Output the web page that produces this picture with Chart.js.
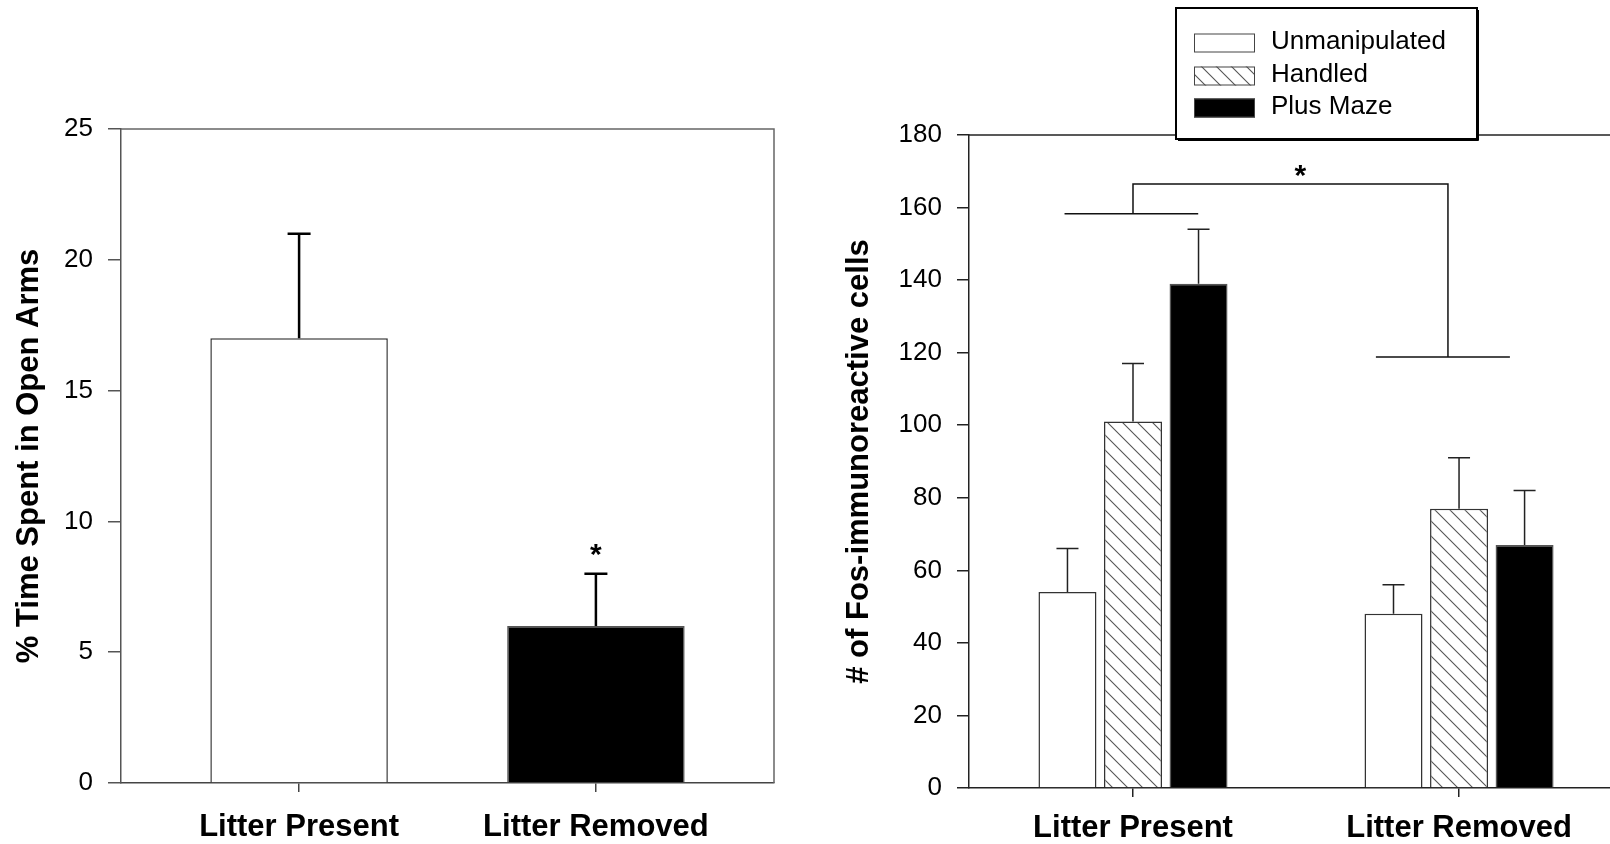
<!DOCTYPE html>
<html>
<head>
<meta charset="utf-8">
<script src="https://cdn.jsdelivr.net/npm/chart.js@4.4.1/dist/chart.umd.min.js"></script>
<style>
  body { margin: 0; background: #fff; }
  #timeChart { position: absolute; left: 0; top: 0; }
  #fosChart { position: absolute; left: 820px; top: 0; }
</style>
</head>
<body>
<canvas id="timeChart" width="820" height="844"></canvas>
<canvas id="fosChart" width="790" height="844"></canvas>
<script>
// ---- data ----
const groupLabels = ['Litter Present', 'Litter Removed'];
const groupPos = [1, 2];

// left panel: % time in open arms (mean, upper SEM)
const openArmTime = [17, 6];
const openArmErr = [4, 2];
const openArmTicks = [0, 5, 10, 15, 20, 25];
const openArmStar = [2, 8.7];          // x group, y value

// right panel: Fos-immunoreactive cells
const unmanipulated = [54, 48];
const unmanipulatedErr = [12, 8];
const handled = [101, 77];
const handledErr = [16, 14];
const plusMaze = [139, 67];
const plusMazeErr = [15, 15];
const fosTicks = [0, 20, 40, 60, 80, 100, 120, 140, 160, 180];

// significance bracket (x in group units, y in cells)
const sigLines = [[0.79, 1.2, 158.3], [1.745, 2.156, 118.8]];
const sigStems = [1.0, 1.966];
const sigTop = 166.5;
const sigStar = [1.513, 168.4];

const FONT = "'Liberation Sans', Arial, sans-serif";

function toPoints(values) {
  return values.map((v, i) => ({ x: groupPos[i], y: v }));
}

// diagonal hatch used for the "Handled" bars
function makeHatch(ctx) {
  const size = 15;
  const c = document.createElement('canvas');
  c.width = size;
  c.height = size;
  const g = c.getContext('2d');
  g.fillStyle = '#fff';
  g.fillRect(0, 0, size, size);
  g.strokeStyle = '#555';
  g.lineWidth = 1.1;
  g.beginPath();
  g.moveTo(0, 0); g.lineTo(size, size);
  g.moveTo(-3, size - 3); g.lineTo(3, size + 3);
  g.moveTo(size - 3, -3); g.lineTo(size + 3, 3);
  g.stroke();
  return ctx.createPattern(c, 'repeat');
}

// upper error bars
const errorBars = {
  id: 'errorBars',
  afterDatasetsDraw(chart, args, opts) {
    const ctx = chart.ctx;
    const yScale = chart.scales.y;
    ctx.save();
    ctx.strokeStyle = opts.color;
    ctx.lineWidth = opts.width;
    chart.data.datasets.forEach((ds, i) => {
      chart.getDatasetMeta(i).data.forEach((bar, j) => {
        const top = yScale.getPixelForValue(ds.data[j].y + ds.errors[j]);
        ctx.beginPath();
        ctx.moveTo(bar.x, bar.y);
        ctx.lineTo(bar.x, top);
        ctx.moveTo(bar.x - opts.cap / 2, top);
        ctx.lineTo(bar.x + opts.cap / 2, top);
        ctx.stroke();
      });
    });
    ctx.restore();
  }
};

// top (and right) frame line of the plot box
const frame = {
  id: 'frame',
  beforeDatasetsDraw(chart, args, opts) {
    const { ctx, chartArea } = chart;
    ctx.save();
    ctx.strokeStyle = opts.color;
    ctx.lineWidth = opts.width;
    ctx.beginPath();
    ctx.moveTo(chartArea.left, chartArea.top);
    ctx.lineTo(chartArea.right, chartArea.top);
    if (opts.right) ctx.lineTo(chartArea.right, chartArea.bottom);
    ctx.stroke();
    ctx.restore();
  }
};

// left panel star
const timeStar = {
  id: 'timeStar',
  afterDraw(chart) {
    const ctx = chart.ctx;
    ctx.save();
    ctx.font = 'bold 30px ' + FONT;
    ctx.fillStyle = '#000';
    ctx.textAlign = 'center';
    ctx.textBaseline = 'middle';
    ctx.fillText('*', chart.scales.x.getPixelForValue(openArmStar[0]), chart.scales.y.getPixelForValue(openArmStar[1]));
    ctx.restore();
  }
};

// right panel bracket + star
const bracket = {
  id: 'bracket',
  afterDraw(chart) {
    const ctx = chart.ctx;
    const xs = chart.scales.x, ys = chart.scales.y;
    ctx.save();
    ctx.strokeStyle = '#111';
    ctx.lineWidth = 1.5;
    ctx.beginPath();
    sigLines.forEach(l => {
      ctx.moveTo(xs.getPixelForValue(l[0]), ys.getPixelForValue(l[2]));
      ctx.lineTo(xs.getPixelForValue(l[1]), ys.getPixelForValue(l[2]));
    });
    ctx.moveTo(xs.getPixelForValue(sigStems[0]), ys.getPixelForValue(sigLines[0][2]));
    ctx.lineTo(xs.getPixelForValue(sigStems[0]), ys.getPixelForValue(sigTop));
    ctx.lineTo(xs.getPixelForValue(sigStems[1]), ys.getPixelForValue(sigTop));
    ctx.lineTo(xs.getPixelForValue(sigStems[1]), ys.getPixelForValue(sigLines[1][2]));
    ctx.stroke();
    ctx.font = 'bold 30px ' + FONT;
    ctx.fillStyle = '#000';
    ctx.textAlign = 'center';
    ctx.textBaseline = 'middle';
    ctx.fillText('*', xs.getPixelForValue(sigStar[0]), ys.getPixelForValue(sigStar[1]));
    ctx.restore();
  }
};

// boxed legend sitting over the top frame line
const boxLegend = {
  id: 'boxLegend',
  afterDraw(chart, args, opts) {
    const ctx = chart.ctx;
    const b = opts.box;
    ctx.save();
    ctx.fillStyle = '#fff';
    ctx.fillRect(b.x, b.y, b.w, b.h);
    ctx.strokeStyle = '#000';
    ctx.lineWidth = 2;
    ctx.strokeRect(b.x, b.y, b.w, b.h);
    ctx.lineWidth = 1;
    ctx.beginPath();
    ctx.moveTo(b.x + 2, b.y + b.h + 1.5);
    ctx.lineTo(b.x + b.w + 1.5, b.y + b.h + 1.5);
    ctx.lineTo(b.x + b.w + 1.5, b.y + 2);
    ctx.stroke();
    ctx.font = '26px ' + FONT;
    ctx.textBaseline = 'middle';
    chart.data.datasets.forEach((ds, i) => {
      const cy = opts.rows[i];
      ctx.fillStyle = ds.backgroundColor;
      ctx.fillRect(opts.swatchX, cy - 9.5, 61, 19);
      ctx.strokeStyle = '#444';
      ctx.lineWidth = 1;
      ctx.strokeRect(opts.swatchX + 0.5, cy - 9, 60, 18);
      ctx.fillStyle = '#000';
      ctx.fillText(ds.label, opts.textX, cy - 1);
    });
    ctx.restore();
  }
};

function axisFont(size, weight) {
  return { family: FONT, size: size, weight: weight };
}

// ---- left chart ----
const timeCtx = document.getElementById('timeChart').getContext('2d');
new Chart(timeCtx, {
  type: 'bar',
  data: {
    datasets: [{
      data: toPoints(openArmTime),
      errors: openArmErr,
      backgroundColor: ['#fff', '#000'],
      borderColor: ['#333', '#555'],
      borderWidth: 1.5,
      categoryPercentage: 1,
      barPercentage: 0.598
    }]
  },
  options: {
    responsive: false,
    animation: false,
    events: [],
    layout: { padding: { top: 129, right: 46, left: 0, bottom: 0 } },
    plugins: {
      legend: { display: false },
      tooltip: { enabled: false },
      errorBars: { color: '#000', width: 2.5, cap: 23 },
      frame: { color: '#666', width: 1.5, right: true }
    },
    scales: {
      x: {
        type: 'linear',
        offset: false,
        min: 0.4,
        max: 2.6,
        afterBuildTicks: s => { s.ticks = groupPos.map(v => ({ value: v })); },
        afterFit: s => { s.height = 61; },
        ticks: {
          callback: v => groupLabels[groupPos.indexOf(v)],
          font: axisFont(31, 'bold'),
          color: '#000',
          padding: 17,
          maxRotation: 0,
          autoSkip: false
        },
        grid: { offset: false, drawOnChartArea: false, tickLength: 9, color: '#444', lineWidth: 1.5 },
        border: { color: '#444', width: 1.5 }
      },
      y: {
        min: 0,
        max: 25,
        afterBuildTicks: s => { s.ticks = openArmTicks.map(v => ({ value: v })); },
        afterFit: s => { s.width = 121; },
        ticks: { font: axisFont(26, 'normal'), color: '#000', padding: 15 },
        grid: { drawOnChartArea: false, tickLength: 13, color: '#555', lineWidth: 1.5 },
        border: { color: '#555', width: 1.5 },
        title: {
          display: true,
          text: '% Time Spent in Open Arms',
          font: axisFont(31, 'bold'),
          color: '#000',
          padding: { top: 11, bottom: 0 }
        }
      }
    }
  },
  plugins: [frame, errorBars, timeStar]
});

// ---- right chart ----
const fosCtx = document.getElementById('fosChart').getContext('2d');
const hatch = makeHatch(fosCtx);
const barStyle = { borderWidth: 1.5, categoryPercentage: 0.603, barPercentage: 0.885 };

new Chart(fosCtx, {
  type: 'bar',
  data: {
    datasets: [
      Object.assign({ label: 'Unmanipulated', data: toPoints(unmanipulated), errors: unmanipulatedErr,
        backgroundColor: '#fff', borderColor: '#333' }, barStyle),
      Object.assign({ label: 'Handled', data: toPoints(handled), errors: handledErr,
        backgroundColor: hatch, borderColor: '#333' }, barStyle),
      Object.assign({ label: 'Plus Maze', data: toPoints(plusMaze), errors: plusMazeErr,
        backgroundColor: '#000', borderColor: '#555' }, barStyle)
    ]
  },
  options: {
    responsive: false,
    animation: false,
    events: [],
    layout: { padding: { top: 135, right: 0, left: 0, bottom: 0 } },
    plugins: {
      legend: { display: false },
      tooltip: { enabled: false },
      errorBars: { color: '#222', width: 1.5, cap: 22 },
      frame: { color: '#222', width: 1.5, right: false },
      boxLegend: { box: { x: 356, y: 8, w: 301, h: 131 }, swatchX: 374, textX: 451, rows: [43, 76, 108] }
    },
    scales: {
      x: {
        type: 'linear',
        offset: false,
        min: 0.497,
        max: 2.463,
        afterBuildTicks: s => { s.ticks = groupPos.map(v => ({ value: v })); },
        afterFit: s => { s.height = 56; },
        ticks: {
          callback: v => groupLabels[groupPos.indexOf(v)],
          font: axisFont(31, 'bold'),
          color: '#000',
          padding: 13,
          maxRotation: 0,
          autoSkip: false
        },
        grid: { offset: false, drawOnChartArea: false, tickLength: 9, color: '#222', lineWidth: 1.5 },
        border: { color: '#222', width: 1.5 }
      },
      y: {
        min: 0,
        max: 180,
        afterBuildTicks: s => { s.ticks = fosTicks.map(v => ({ value: v })); },
        afterFit: s => { s.width = 149; },
        ticks: { font: axisFont(26, 'normal'), color: '#000', padding: 15 },
        grid: { drawOnChartArea: false, tickLength: 12, color: '#222', lineWidth: 1.5 },
        border: { color: '#222', width: 1.5 },
        title: {
          display: true,
          text: '# of Fos-immunoreactive cells',
          font: axisFont(31, 'bold'),
          color: '#000',
          padding: { top: 21, bottom: 0 }
        }
      }
    }
  },
  plugins: [frame, errorBars, bracket, boxLegend]
});
</script>
</body>
</html>
